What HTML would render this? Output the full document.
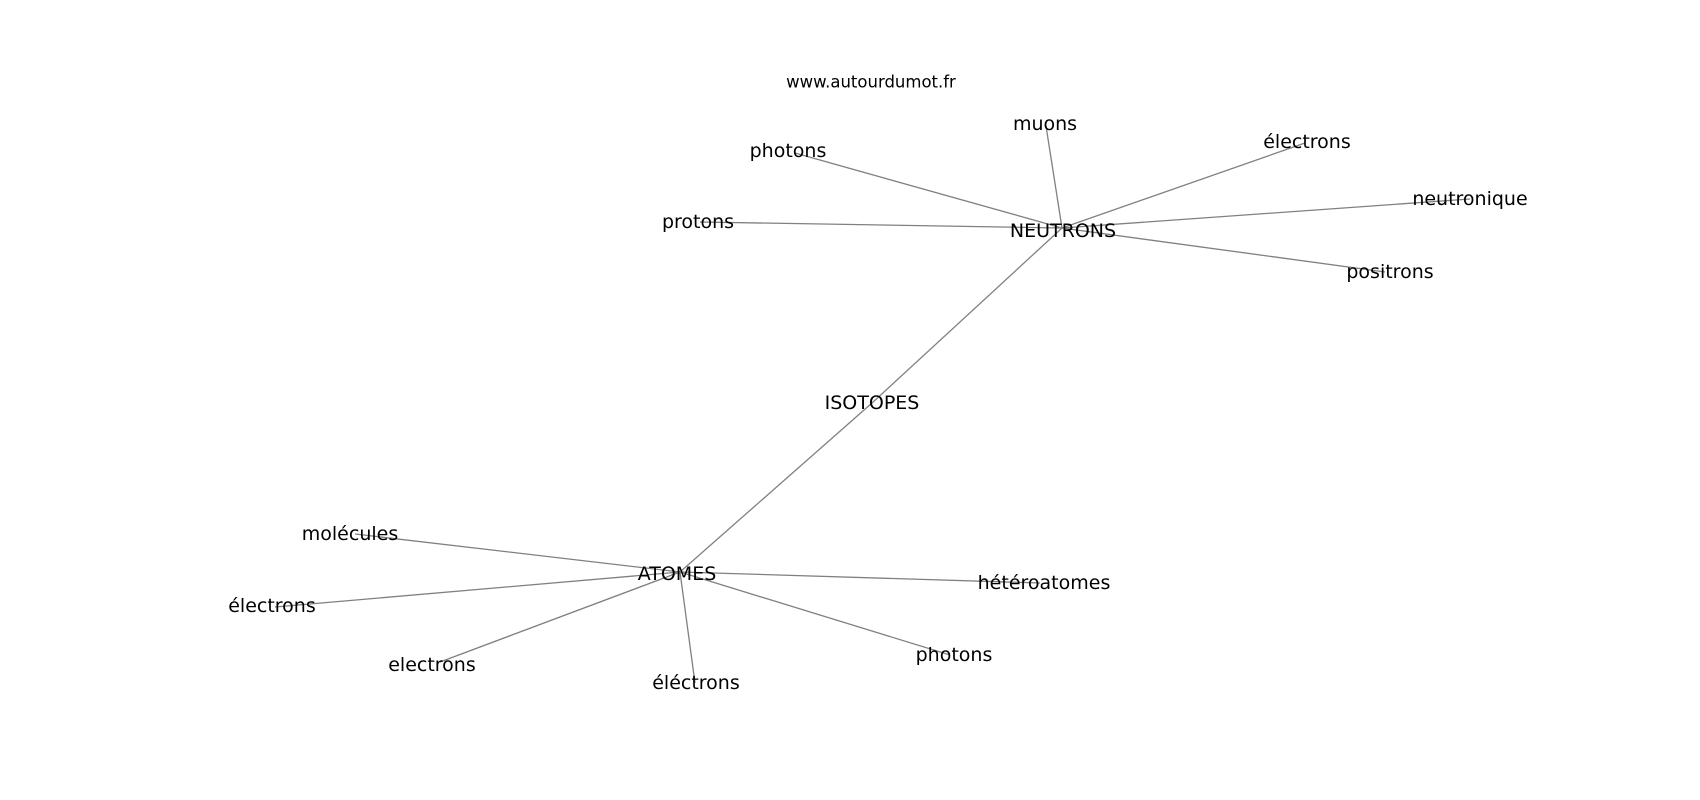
<!DOCTYPE html>
<html><head><meta charset="utf-8"><style>body{margin:0;background:#fff}svg{display:block}</style></head>
<body>
<svg width="1700" height="800" xmlns="http://www.w3.org/2000/svg">
<g stroke="#808080" stroke-width="1.3">
<line x1="1062" y1="228" x2="872" y2="403"/>
<line x1="872" y1="403" x2="680" y2="572"/>
<line x1="1062" y1="228" x2="795" y2="153"/>
<line x1="1062" y1="228" x2="1046" y2="126"/>
<line x1="1062" y1="228" x2="1305" y2="143"/>
<line x1="1062" y1="228" x2="1470" y2="199"/>
<line x1="1062" y1="228" x2="700" y2="222"/>
<line x1="1062" y1="228" x2="1385" y2="272"/>
<line x1="680" y1="572" x2="355" y2="534"/>
<line x1="680" y1="572" x2="275" y2="607"/>
<line x1="680" y1="572" x2="440" y2="662"/>
<line x1="680" y1="572" x2="695" y2="683"/>
<line x1="680" y1="572" x2="950" y2="655"/>
<line x1="680" y1="572" x2="1040" y2="583"/>
</g>
<g font-family="DejaVu Sans, Liberation Sans, sans-serif" font-size="19" fill="#000" text-anchor="middle" dominant-baseline="central">
<text x="871" y="82" font-size="16.5">www.autourdumot.fr</text>
<text x="1063" y="231">NEUTRONS</text>
<text x="872" y="403">ISOTOPES</text>
<text x="677" y="574">ATOMES</text>
<text x="788" y="151">photons</text>
<text x="1045" y="124">muons</text>
<text x="1307" y="142">électrons</text>
<text x="1470" y="199">neutronique</text>
<text x="698" y="222">protons</text>
<text x="1390" y="272">positrons</text>
<text x="350" y="534">molécules</text>
<text x="272" y="606">électrons</text>
<text x="432" y="665">electrons</text>
<text x="696" y="683">éléctrons</text>
<text x="954" y="655">photons</text>
<text x="1044" y="583">hétéroatomes</text>
</g>
</svg>
</body></html>
